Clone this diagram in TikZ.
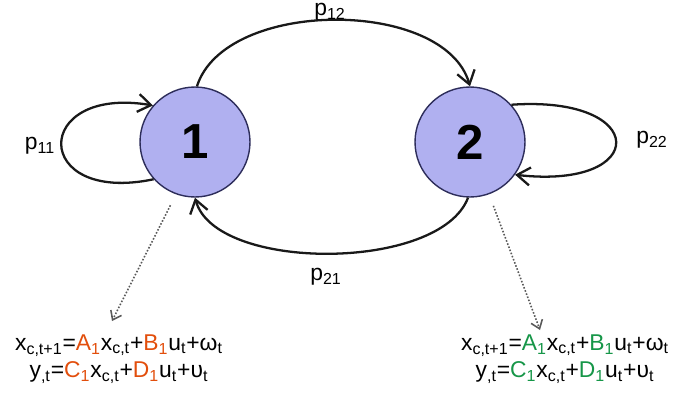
\documentclass[tikz,border=0pt]{standalone}
\usepackage{fontspec}
\setmainfont{Liberation Sans}
\usepackage{xcolor}
\usetikzlibrary{arrows.meta,positioning}
\definecolor{statefill}{RGB}{176,176,240}
\definecolor{stateline}{RGB}{45,45,90}
\definecolor{modeone}{RGB}{226,78,12}
\definecolor{modetwo}{RGB}{22,150,72}
\newcommand{\lo}[1]{\textsubscript{#1}}
\tikzset{
  state/.style={circle, draw=stateline, thick, fill=statefill, minimum size=2.2cm, font=\fontsize{28}{28}\selectfont\bfseries, inner sep=0pt},
  trans/.style={-{Straight Barb[length=2.6mm,width=3.6mm]}, line width=1.3pt, black!90},
  plabel/.style={font=\fontsize{13}{14}\selectfont},
  modeeq/.style={align=center, font=\fontsize{13}{15.5}\selectfont, inner sep=0pt},
  pointer/.style={-{Straight Barb[length=1.6mm,width=2.4mm]}, densely dotted, line width=0.9pt, black!65}
}

\begin{document}
\begin{tikzpicture}[x=0.02cm, y=-0.02cm]
\useasboundingbox (0,0) rectangle (675,396);
\node[state] (one) at (195,142) {1};
\node[state] (two) at (470,142) {2};
\draw[trans] (one.88) .. controls (225,-2) and (445,-2) .. (two.90);
\draw[trans] (two.268) .. controls (440,272) and (215,272) .. (one.270);
\draw[trans] (one.222) .. controls (31,205) and (31,85) .. (one.139);
\draw[trans] (two.42) .. controls (650,95) and (650,190) .. (two.-36);
\node[plabel] (p12) at (330,12) {p\lo{12}};
\node[plabel] (p21) at (326,277) {p\lo{21}};
\node[plabel] (p11) at (40,146) {p\lo{11}};
\node[plabel] (p22) at (652,140) {p\lo{22}};
\node[modeeq] (eqone) at (119,359) {x\lo{c,t+1}=\textcolor{modeone}{A\lo{1}}x\lo{c,t}+\textcolor{modeone}{B\lo{1}}u\lo{t}+ω\lo{t}\\
  y\lo{,t}=\textcolor{modeone}{C\lo{1}}x\lo{c,t}+\textcolor{modeone}{D\lo{1}}u\lo{t}+υ\lo{t}};
\node[modeeq] (eqtwo) at (565,359) {x\lo{c,t+1}=\textcolor{modetwo}{A\lo{1}}x\lo{c,t}+\textcolor{modetwo}{B\lo{1}}u\lo{t}+ω\lo{t}\\
  y\lo{,t}=\textcolor{modetwo}{C\lo{1}}x\lo{c,t}+\textcolor{modetwo}{D\lo{1}}u\lo{t}+υ\lo{t}};
\coordinate (tipone) at (112,321);
\coordinate (tiptwo) at (540,330);
\draw[pointer, shorten <=7pt] (one.250) -- (tipone);
\draw[pointer, shorten <=7pt] (two.290) -- (tiptwo);
\end{tikzpicture}
\end{document}
